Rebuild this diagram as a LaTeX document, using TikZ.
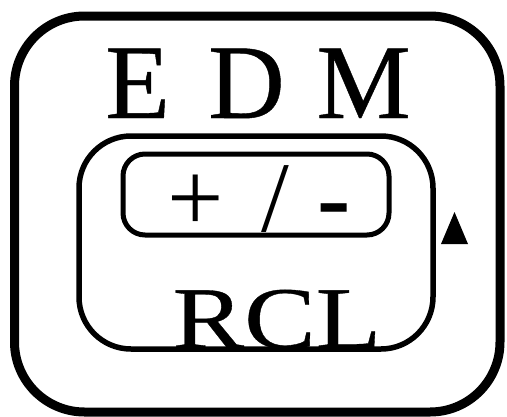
\documentclass[tikz,border=0pt]{standalone}
\usepackage{fontspec}
\setmainfont{Liberation Serif}
\newfontfamily\heavyfont{Liberation Serif}[FakeBold=0.4]
\newfontfamily\widefont{Liberation Serif}[FakeBold=0.4, FakeStretch=1.22]

\begin{document}
\begin{tikzpicture}[x=1pt, y=-1pt,
    panel/.style={draw, rounded corners=70pt, line width=9pt, inner sep=0pt},
    window/.style={draw, rounded corners=52pt, line width=5.5pt, inner sep=0pt},
    key/.style={draw, rounded corners=22pt, line width=5pt, inner sep=0pt},
    label/.style={inner sep=0pt, anchor=base},
  ]
    \useasboundingbox (0,0) rectangle (507,416);
    \node[panel, minimum width=485.5pt, minimum height=396pt] (panel) at (257.25,214) {};
    \node[window, minimum width=354pt, minimum height=213pt] (window) at (256,242.5) {};
    \node[key, minimum width=266pt, minimum height=81pt] (key) at (256,194.5) {};
    \node[label, font=\heavyfont\fontsize{106}{110}\selectfont] (edm) at (258,118) {E\hspace{0.36em}D\hspace{0.3em}M};
    \node[label, anchor=base west, font=\fontsize{100}{100}\selectfont] (sign) at (167,231) {+\hspace{38pt}/\hspace{28pt}\textbf{-}};
    \node[label, font=\widefont\fontsize{88}{96}\selectfont] (rcl) at (277,348) {RCL};
    % small pointer beside the window
    \fill (441,244) -- (454.5,212) -- (468,244) -- cycle;
\end{tikzpicture}
\end{document}
